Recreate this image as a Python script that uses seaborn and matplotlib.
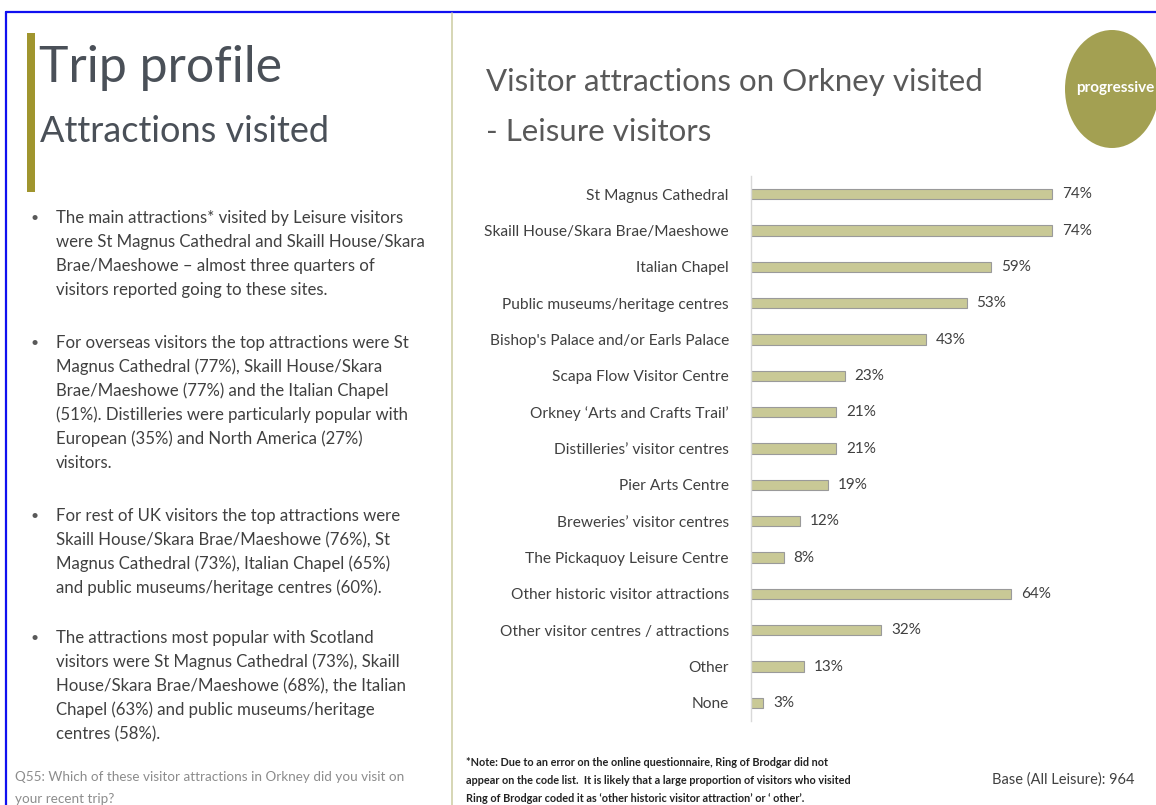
import matplotlib.pyplot as plt
import seaborn as sns
import pandas as pd
from matplotlib.patches import Ellipse, Rectangle
from matplotlib.lines import Line2D

# ---- data ----
categories = [
    "St Magnus Cathedral",
    "Skaill House/Skara Brae/Maeshowe",
    "Italian Chapel",
    "Public museums/heritage centres",
    "Bishop's Palace and/or Earls Palace",
    "Scapa Flow Visitor Centre",
    "Orkney \u2018Arts and Crafts Trail\u2019",
    "Distilleries\u2019 visitor centres",
    "Pier Arts Centre",
    "Breweries\u2019 visitor centres",
    "The Pickaquoy Leisure Centre",
    "Other historic visitor attractions",
    "Other visitor centres / attractions",
    "Other",
    "None",
]
values = [74, 74, 59, 53, 43, 23, 21, 21, 19, 12, 8, 64, 32, 13, 3]

bullets = [
    ["The main attractions* visited by Leisure visitors",
     "were St Magnus Cathedral and Skaill House/Skara",
     "Brae/Maeshowe \u2013 almost three quarters of",
     "visitors reported going to these sites."],
    ["For overseas visitors the top attractions were St",
     "Magnus Cathedral (77%), Skaill House/Skara",
     "Brae/Maeshowe (77%) and the Italian Chapel",
     "(51%). Distilleries were particularly popular with",
     "European (35%) and North America (27%)",
     "visitors."],
    ["For rest of UK visitors the top attractions were",
     "Skaill House/Skara Brae/Maeshowe (76%), St",
     "Magnus Cathedral (73%), Italian Chapel (65%)",
     "and public museums/heritage centres (60%)."],
    ["The attractions most popular with Scotland",
     "visitors were St Magnus Cathedral (73%), Skaill",
     "House/Skara Brae/Maeshowe (68%), the Italian",
     "Chapel (63%) and public museums/heritage",
     "centres (58%)."],
]
bullet_tops = [218, 343, 516, 638]

note_lines = [
    "*Note: Due to an error on the online questionnaire, Ring of Brodgar did not",
    "appear on the code list.  It is likely that a large proportion of visitors who visited",
    "Ring of Brodgar coded it as \u2018other historic visitor attraction\u2019 or \u2018 other\u2019.",
]

BAR = "#C9C996"
OLIVE = "#A3A052"
TXT = "#404040"

sns.set_style("white")
plt.rcParams['font.family'] = ['Lato', 'DejaVu Sans']

W, H = 1156, 805
fig = plt.figure(figsize=(W / 100, H / 100), dpi=100)
fig.patch.set_facecolor("white")


def fx(px):
    return px / W


def fy(py):
    return 1 - py / H


# slide frame
fig.add_artist(Line2D([fx(6), fx(1156)], [fy(12), fy(12)], color="#1010F0", lw=1.6))
fig.add_artist(Line2D([fx(6), fx(6)], [fy(12), fy(805)], color="#1010F0", lw=1.6))
fig.add_artist(Line2D([fx(452), fx(452)], [fy(13), fy(805)], color="#CFCFA8", lw=1.2))

# left heading
fig.add_artist(Rectangle((fx(27), fy(192)), fx(8), 159 / H, color="#A0952E", lw=0))
fig.text(fx(39), fy(68), "Trip profile", fontsize=36, color="#4A5058", va="center")
fig.text(fx(40), fy(131), "Attractions visited", fontsize=26, color="#4A5058", va="center")

for lines, top in zip(bullets, bullet_tops):
    fig.text(fx(31), fy(top), "\u2022", fontsize=10, color="#595959", va="center")
    for i, line in enumerate(lines):
        fig.text(fx(56), fy(top + i * 24), line, fontsize=12.1, color=TXT, va="center")

fig.text(fx(15), fy(777), "Q55: Which of these visitor attractions in Orkney did you visit on",
         fontsize=9.7, color="#8C8C8C", va="center")
fig.text(fx(15), fy(799), "your recent trip?", fontsize=9.7, color="#8C8C8C", va="center")

# right heading
fig.text(fx(486), fy(82), "Visitor attractions on Orkney visited", fontsize=22.5, color="#595959", va="center")
fig.text(fx(486), fy(132), "- Leisure visitors", fontsize=22.5, color="#595959", va="center")

# logo
fig.add_artist(Ellipse((fx(1112), fy(89)), 94 / W, 118 / H, color=OLIVE, lw=0))
fig.text(fx(1076), fy(88), "progressive", fontsize=11, color="white", va="center",
         fontweight="bold")

# bar chart
df = pd.DataFrame({"attraction": categories, "pct": values})
ax = fig.add_axes([fx(751), 1 - 721 / H, 407 / W, 545 / H])
sns.barplot(data=df, x="pct", y="attraction", orient="h", color=BAR, width=0.28,
            edgecolor="#9A9A9A", linewidth=0.8, saturation=1, ax=ax)
ax.set_xlim(0, 100)
ax.set_ylim(len(categories) - 0.5, -0.5)
ax.set_xlabel("")
ax.set_ylabel("")
ax.set_xticks([])
ax.tick_params(axis="y", length=0, pad=16, labelsize=11.2, labelcolor=TXT)
for s in ["top", "right", "bottom"]:
    ax.spines[s].set_visible(False)
ax.spines["left"].set_color("#D9D9D9")
ax.spines["left"].set_linewidth(1)
ax.patch.set_alpha(0)
ax.bar_label(ax.containers[0], labels=[f"{v}%" for v in values], padding=7,
             fontsize=11, color=TXT)

# footer
for i, line in enumerate(note_lines):
    fig.text(fx(466), fy(762 + i * 18), line, fontsize=7.8, color="#222222", va="center",
             fontweight="bold")
fig.text(fx(1134), fy(780), "Base (All Leisure): 964", fontsize=10.5, color=TXT, va="center",
         ha="right")

fig.savefig("out.png", dpi=100, facecolor="white")
